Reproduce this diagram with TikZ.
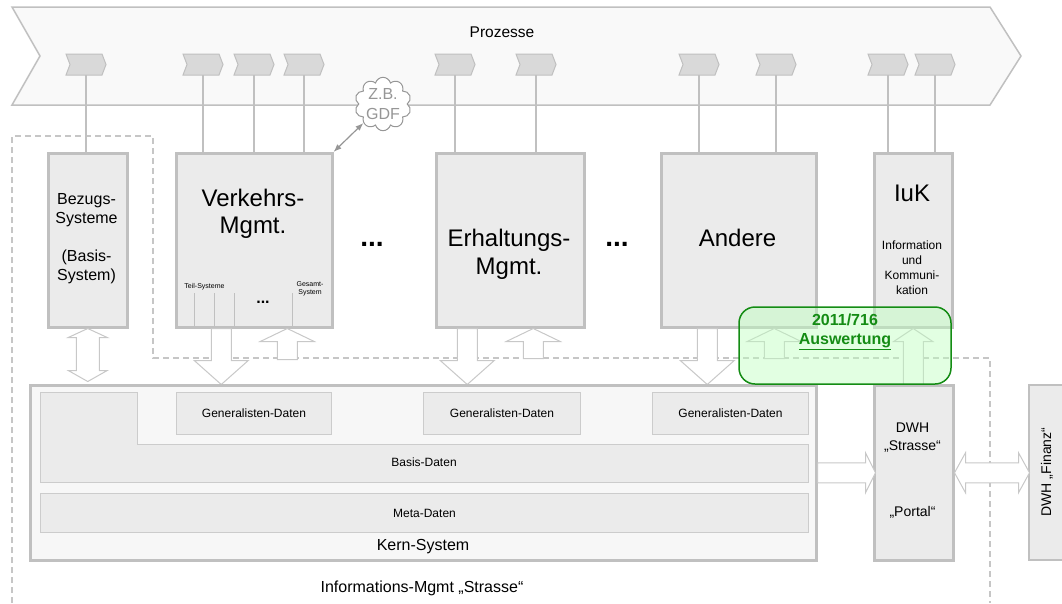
\documentclass[tikz,border=0pt]{standalone}
\usepackage{fontspec}
\setmainfont{Liberation Sans}
\usetikzlibrary{arrows.meta}
\usetikzlibrary{shapes.symbols}

\definecolor{frame}{RGB}{192,192,192}
\definecolor{thinframe}{RGB}{204,204,204}
\definecolor{boxfill}{RGB}{235,235,235}
\definecolor{kernfill}{RGB}{247,247,247}
\definecolor{procfill}{RGB}{249,249,249}
\definecolor{chevfill}{RGB}{217,217,217}
\definecolor{arrgray}{RGB}{200,200,200}
\definecolor{auswgreen}{RGB}{20,140,20}
\definecolor{auswfill}{RGB}{190,255,190}
\definecolor{cloudgray}{RGB}{150,150,150}

\newcommand{\fsz}[2]{\fontsize{#1pt}{#2pt}\selectfont}

\tikzset{
  pics/dnarr/.style={code={\draw[blockarr] (-10,0) -- (-10,32) -- (-27,32) -- (0,56) -- (27,32) -- (10,32) -- (10,0) -- cycle;}},
  pics/uparr/.style 2 args={code={\draw[blockarr] (0,0) -- (#2,13) -- (10,13) -- (10,#1) -- (-10,#1) -- (-10,13) -- (-#2,13) -- cycle;}},
  pics/dblv/.style={code={\draw[blockarr] (0,0) -- (19.5,9) -- (11.5,9) -- (11.5,42) -- (19.5,42) -- (0,53) -- (-19.5,42) -- (-11.5,42) -- (-11.5,9) -- (-19.5,9) -- cycle;}},
  pics/rarr/.style={code={\draw[blockarr] (0,-10) -- (48,-10) -- (48,-20) -- (58,0) -- (48,20) -- (48,10) -- (0,10) -- cycle;}},
  pics/dblh/.style={code={\draw[blockarr] (0,0) -- (11,-20) -- (11,-10) -- (64,-10) -- (64,-20) -- (75,0) -- (64,20) -- (64,10) -- (11,10) -- (11,20) -- cycle;}}
}

\begin{document}
\begin{tikzpicture}[x=1pt,y=-1pt,
  sysbox/.style={draw=frame,line width=2.5pt,fill=boxfill,anchor=north west,inner sep=0pt},
  datbox/.style={draw=thinframe,line width=1pt,fill=boxfill,anchor=north west,inner sep=0pt},
  txt/.style={inner sep=0pt,align=center},
  chev/.style={draw=frame,line width=1pt,fill=chevfill},
  link/.style={draw=frame,line width=2.5pt},
  blockarr/.style={draw=arrgray,fill=white,line width=1pt},
  grenze/.style={draw=frame!90,line width=2.5pt,dash pattern=on 6pt off 4pt},
  wolke/.style={cloud,cloud puffs=10,aspect=1.1,draw=cloudgray,fill=white,text=cloudgray,line width=1pt,align=center,inner sep=0pt,font=\fsz{16}{20}},
  gdfpfeil/.style={{Latex[length=8pt,width=6pt]}-{Latex[length=8pt,width=6pt]},draw=cloudgray,line width=1.2pt},
  auswbox/.style={draw=auswgreen,line width=1.5pt,fill=auswfill,fill opacity=0.45,rounded corners=16pt}]
  \useasboundingbox (0,0) rectangle (1062,603);

  %prozesse
  \draw[draw=frame,line width=1.5pt,fill=procfill] (12,7) -- (990,7) -- (1021,56) -- (990,105) -- (12,105) -- (40,56) -- cycle;
  \node[txt,font=\fsz{15.5}{18}] (proz) at (502,32) {Prozesse};
  \foreach \x [count=\i] in {66,183,234,284,435,516,679,756,868,915} {
    \draw[chev] (\x,54) -- ++(36,0) -- ++(4,10.5) -- ++(-4,10.5) -- ++(-36,0) -- ++(4,-10.5) -- cycle;
    \coordinate (p\i) at (\x+20,75);
  }

  %grenze informations-mgmt
  \draw[grenze] (12,603) -- (12,136) -- (153,136) -- (153,358) -- (990,358) -- (990,603);

  %systeme
  \node[sysbox,minimum width=79pt,minimum height=174pt] (bez) at (47,152) {};
  \node[sysbox,minimum width=156pt,minimum height=174pt] (vk) at (175,152) {};
  \node[sysbox,minimum width=148pt,minimum height=174pt] (erh) at (435,152) {};
  \node[sysbox,minimum width=155pt,minimum height=174pt] (andr) at (660,152) {};
  \node[sysbox,minimum width=78pt,minimum height=174pt] (iuk) at (873,152) {};
  \foreach \i/\b in {1/bez,2/vk,3/vk,4/vk,5/erh,6/erh,7/andr,8/andr,9/iuk,10/iuk}
    \draw[link] (p\i) -- (p\i |- \b.north);

  \node[txt,font=\fsz{16}{19}] (bez-t) at (86.5,238.5) {Bezugs-\\Systeme\\[19pt](Basis-\\System)};
  \node[txt,font=\fsz{24}{27}] (vk-t) at (253,213.5) {Verkehrs-\\Mgmt.};
  \node[txt,font=\fsz{24}{28}] (erh-t) at (509,254) {Erhaltungs-\\Mgmt.};
  \node[txt,font=\fsz{24}{28}] (andr-t) at (737.5,238) {Andere};
  \node[txt,font=\fsz{24}{28}] (iuk-t) at (912,193) {IuK};
  \node[txt,font=\fsz{12}{15}] (iuk-u) at (912,267.5) {Information\\und\\Kommuni-\\kation};
  \node[txt,font=\fsz{28}{28}\bfseries] (dots1) at (372,244) {...};
  \node[txt,font=\fsz{28}{28}\bfseries] (dots2) at (617,244) {...};

  %teil-systeme
  \foreach \x in {194,214,234,292}
    \draw[draw=frame,line width=0.8pt] (\x,293) -- (\x,326);
  \node[txt,font=\fsz{7}{8}] (teil) at (204.5,287) {Teil-Systeme};
  \node[txt,font=\fsz{7}{8}] (gesamt) at (310,289) {Gesamt-\\System};
  \node[txt,font=\fsz{16}{16}\bfseries] (dots3) at (263,302) {...};

  %cloud
  \node[wolke] (gdf) at (383,104) {Z.B.\\GDF};
  \draw[gdfpfeil] (gdf) -- (vk.north east);

  %block arrows
  \pic at (bez.south) {dblv};
  \pic at ([xshift=-33pt]vk.south) {dnarr};
  \pic at ([xshift=33pt]vk.south) {uparr={31}{27}};
  \pic at ([xshift=-43pt]erh.south) {dnarr};
  \pic at ([xshift=23pt]erh.south) {uparr={30}{27}};
  \pic at ([xshift=-31.5pt]andr.south) {dnarr};
  \pic at ([xshift=35.5pt]andr.south) {uparr={30}{27}};
  \pic at (iuk.south) {uparr={56}{19.5}};

  %kern-system
  \node[sysbox,fill=kernfill,minimum width=786pt,minimum height=175pt] (kern) at (29,384) {};
  \node[datbox,minimum width=155pt,minimum height=42pt] (gen1) at (176,392) {};
  \node[datbox,minimum width=157pt,minimum height=42pt] (gen2) at (423,392) {};
  \node[datbox,minimum width=156pt,minimum height=42pt] (gen3) at (652,392) {};
  \foreach \g in {gen1,gen2,gen3}
    \node[txt,font=\fsz{12}{14}] (\g-t) at (\g) {Generalisten-Daten};
  \draw[draw=thinframe,line width=1pt,fill=boxfill] (40,392) -- (137,392) -- (137,444) -- (808,444) -- (808,482) -- (40,482) -- cycle;
  \node[txt,font=\fsz{12}{14}] (basis) at (424,462) {Basis-Daten};
  \node[datbox,minimum width=768pt,minimum height=39pt] (meta) at (40,493) {};
  \node[txt,font=\fsz{12}{14}] (meta-t) at (meta) {Meta-Daten};
  \node[txt,font=\fsz{16}{18}] (kern-t) at (423,547) {Kern-System};
  \node[txt,font=\fsz{16}{18}] (infomgmt) at (422,588) {Informations-Mgmt „Strasse“};

  %dwh
  \node[sysbox,minimum width=79pt,minimum height=175pt] (dwh) at (873,384) {};
  \node[txt,font=\fsz{14}{18}] (dwh-t) at (912.5,438) {DWH\\„Strasse“};
  \node[txt,font=\fsz{14}{18}] (portal) at (912.5,512) {„Portal“};
  \node[sysbox,line width=1.5pt,minimum width=40pt,minimum height=175pt] (fin) at (1028,384) {};
  \node[txt,font=\fsz{14}{18},rotate=90] (fin-t) at (1047,472) {DWH „Finanz“};
  \pic at (kern.east) {rarr};
  \pic at (dwh.east) {dblh};

  %auswertung
  \draw[auswbox] (739,307) rectangle (951,384);
  \node[txt,text=auswgreen,font=\fsz{16}{19}\bfseries] (ausw) at (845,331.5) {2011/716\\\underline{Auswertung}};
\end{tikzpicture}
\end{document}
